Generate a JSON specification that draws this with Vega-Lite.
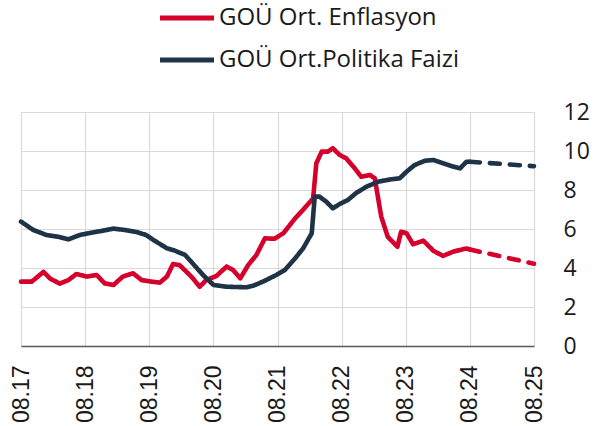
{
  "$schema": "https://vega.github.io/schema/vega-lite/v6.json",
  "width": 513,
  "height": 234,
  "autosize": "none",
  "padding": {"left": 21, "top": 112, "right": 69, "bottom": 80},
  "background": "white",
  "config": {
    "view": {"stroke": null},
    "axis": {"gridColor": "#d9d9d9", "gridWidth": 1.2}
  },
  "datasets": {
    "d": [
      {"date": "2017-08-01", "v": 3.30, "s": "GOÜ Ort. Enflasyon", "t": "A"},
      {"date": "2017-10-01", "v": 3.30, "s": "GOÜ Ort. Enflasyon", "t": "A"},
      {"date": "2017-12-07", "v": 3.80, "s": "GOÜ Ort. Enflasyon", "t": "A"},
      {"date": "2018-01-15", "v": 3.45, "s": "GOÜ Ort. Enflasyon", "t": "A"},
      {"date": "2018-03-10", "v": 3.20, "s": "GOÜ Ort. Enflasyon", "t": "A"},
      {"date": "2018-04-28", "v": 3.38, "s": "GOÜ Ort. Enflasyon", "t": "A"},
      {"date": "2018-06-12", "v": 3.69, "s": "GOÜ Ort. Enflasyon", "t": "A"},
      {"date": "2018-08-10", "v": 3.56, "s": "GOÜ Ort. Enflasyon", "t": "A"},
      {"date": "2018-10-06", "v": 3.64, "s": "GOÜ Ort. Enflasyon", "t": "A"},
      {"date": "2018-11-21", "v": 3.21, "s": "GOÜ Ort. Enflasyon", "t": "A"},
      {"date": "2019-01-10", "v": 3.13, "s": "GOÜ Ort. Enflasyon", "t": "A"},
      {"date": "2019-03-04", "v": 3.56, "s": "GOÜ Ort. Enflasyon", "t": "A"},
      {"date": "2019-05-01", "v": 3.73, "s": "GOÜ Ort. Enflasyon", "t": "A"},
      {"date": "2019-06-19", "v": 3.38, "s": "GOÜ Ort. Enflasyon", "t": "A"},
      {"date": "2019-08-15", "v": 3.30, "s": "GOÜ Ort. Enflasyon", "t": "A"},
      {"date": "2019-10-01", "v": 3.25, "s": "GOÜ Ort. Enflasyon", "t": "A"},
      {"date": "2019-11-10", "v": 3.56, "s": "GOÜ Ort. Enflasyon", "t": "A"},
      {"date": "2019-12-15", "v": 4.20, "s": "GOÜ Ort. Enflasyon", "t": "A"},
      {"date": "2020-01-21", "v": 4.15, "s": "GOÜ Ort. Enflasyon", "t": "A"},
      {"date": "2020-03-28", "v": 3.56, "s": "GOÜ Ort. Enflasyon", "t": "A"},
      {"date": "2020-05-15", "v": 3.04, "s": "GOÜ Ort. Enflasyon", "t": "A"},
      {"date": "2020-06-21", "v": 3.38, "s": "GOÜ Ort. Enflasyon", "t": "A"},
      {"date": "2020-08-18", "v": 3.59, "s": "GOÜ Ort. Enflasyon", "t": "A"},
      {"date": "2020-10-15", "v": 4.07, "s": "GOÜ Ort. Enflasyon", "t": "A"},
      {"date": "2020-11-21", "v": 3.90, "s": "GOÜ Ort. Enflasyon", "t": "A"},
      {"date": "2021-01-01", "v": 3.47, "s": "GOÜ Ort. Enflasyon", "t": "A"},
      {"date": "2021-02-15", "v": 4.15, "s": "GOÜ Ort. Enflasyon", "t": "A"},
      {"date": "2021-04-03", "v": 4.67, "s": "GOÜ Ort. Enflasyon", "t": "A"},
      {"date": "2021-05-21", "v": 5.52, "s": "GOÜ Ort. Enflasyon", "t": "A"},
      {"date": "2021-07-15", "v": 5.50, "s": "GOÜ Ort. Enflasyon", "t": "A"},
      {"date": "2021-09-03", "v": 5.78, "s": "GOÜ Ort. Enflasyon", "t": "A"},
      {"date": "2021-11-10", "v": 6.55, "s": "GOÜ Ort. Enflasyon", "t": "A"},
      {"date": "2021-12-15", "v": 6.89, "s": "GOÜ Ort. Enflasyon", "t": "A"},
      {"date": "2022-02-03", "v": 7.40, "s": "GOÜ Ort. Enflasyon", "t": "A"},
      {"date": "2022-02-20", "v": 7.57, "s": "GOÜ Ort. Enflasyon", "t": "A"},
      {"date": "2022-03-10", "v": 9.37, "s": "GOÜ Ort. Enflasyon", "t": "A"},
      {"date": "2022-04-10", "v": 9.97, "s": "GOÜ Ort. Enflasyon", "t": "A"},
      {"date": "2022-05-15", "v": 9.97, "s": "GOÜ Ort. Enflasyon", "t": "A"},
      {"date": "2022-06-12", "v": 10.14, "s": "GOÜ Ort. Enflasyon", "t": "A"},
      {"date": "2022-07-21", "v": 9.80, "s": "GOÜ Ort. Enflasyon", "t": "A"},
      {"date": "2022-08-28", "v": 9.62, "s": "GOÜ Ort. Enflasyon", "t": "A"},
      {"date": "2022-10-15", "v": 9.11, "s": "GOÜ Ort. Enflasyon", "t": "A"},
      {"date": "2022-11-21", "v": 8.68, "s": "GOÜ Ort. Enflasyon", "t": "A"},
      {"date": "2023-01-10", "v": 8.77, "s": "GOÜ Ort. Enflasyon", "t": "A"},
      {"date": "2023-02-06", "v": 8.60, "s": "GOÜ Ort. Enflasyon", "t": "A"},
      {"date": "2023-03-15", "v": 6.63, "s": "GOÜ Ort. Enflasyon", "t": "A"},
      {"date": "2023-04-21", "v": 5.60, "s": "GOÜ Ort. Enflasyon", "t": "A"},
      {"date": "2023-06-15", "v": 5.09, "s": "GOÜ Ort. Enflasyon", "t": "A"},
      {"date": "2023-07-06", "v": 5.86, "s": "GOÜ Ort. Enflasyon", "t": "A"},
      {"date": "2023-08-06", "v": 5.78, "s": "GOÜ Ort. Enflasyon", "t": "A"},
      {"date": "2023-09-12", "v": 5.22, "s": "GOÜ Ort. Enflasyon", "t": "A"},
      {"date": "2023-11-10", "v": 5.40, "s": "GOÜ Ort. Enflasyon", "t": "A"},
      {"date": "2024-01-06", "v": 4.88, "s": "GOÜ Ort. Enflasyon", "t": "A"},
      {"date": "2024-03-01", "v": 4.62, "s": "GOÜ Ort. Enflasyon", "t": "A"},
      {"date": "2024-04-28", "v": 4.84, "s": "GOÜ Ort. Enflasyon", "t": "A"},
      {"date": "2024-07-12", "v": 5.00, "s": "GOÜ Ort. Enflasyon", "t": "A"},
      {"date": "2024-08-01", "v": 4.95, "s": "GOÜ Ort. Enflasyon", "t": "A"},
      {"date": "2024-08-01", "v": 4.95, "s": "GOÜ Ort. Enflasyon", "t": "F"},
      {"date": "2025-08-01", "v": 4.22, "s": "GOÜ Ort. Enflasyon", "t": "F"},
      {"date": "2017-08-01", "v": 6.38, "s": "GOÜ Ort.Politika Faizi", "t": "A"},
      {"date": "2017-10-10", "v": 5.95, "s": "GOÜ Ort.Politika Faizi", "t": "A"},
      {"date": "2017-12-25", "v": 5.69, "s": "GOÜ Ort.Politika Faizi", "t": "A"},
      {"date": "2018-03-01", "v": 5.60, "s": "GOÜ Ort.Politika Faizi", "t": "A"},
      {"date": "2018-04-28", "v": 5.47, "s": "GOÜ Ort.Politika Faizi", "t": "A"},
      {"date": "2018-07-01", "v": 5.69, "s": "GOÜ Ort.Politika Faizi", "t": "A"},
      {"date": "2018-09-06", "v": 5.81, "s": "GOÜ Ort.Politika Faizi", "t": "A"},
      {"date": "2018-11-03", "v": 5.90, "s": "GOÜ Ort.Politika Faizi", "t": "A"},
      {"date": "2019-01-10", "v": 6.02, "s": "GOÜ Ort.Politika Faizi", "t": "A"},
      {"date": "2019-03-15", "v": 5.95, "s": "GOÜ Ort.Politika Faizi", "t": "A"},
      {"date": "2019-05-18", "v": 5.85, "s": "GOÜ Ort.Politika Faizi", "t": "A"},
      {"date": "2019-07-15", "v": 5.69, "s": "GOÜ Ort.Politika Faizi", "t": "A"},
      {"date": "2019-08-25", "v": 5.44, "s": "GOÜ Ort.Politika Faizi", "t": "A"},
      {"date": "2019-11-10", "v": 5.01, "s": "GOÜ Ort.Politika Faizi", "t": "A"},
      {"date": "2019-12-25", "v": 4.89, "s": "GOÜ Ort.Politika Faizi", "t": "A"},
      {"date": "2020-02-21", "v": 4.67, "s": "GOÜ Ort.Politika Faizi", "t": "A"},
      {"date": "2020-03-28", "v": 4.32, "s": "GOÜ Ort.Politika Faizi", "t": "A"},
      {"date": "2020-06-03", "v": 3.64, "s": "GOÜ Ort.Politika Faizi", "t": "A"},
      {"date": "2020-08-01", "v": 3.13, "s": "GOÜ Ort.Politika Faizi", "t": "A"},
      {"date": "2020-10-15", "v": 3.04, "s": "GOÜ Ort.Politika Faizi", "t": "A"},
      {"date": "2021-02-06", "v": 3.01, "s": "GOÜ Ort.Politika Faizi", "t": "A"},
      {"date": "2021-03-15", "v": 3.09, "s": "GOÜ Ort.Politika Faizi", "t": "A"},
      {"date": "2021-05-10", "v": 3.30, "s": "GOÜ Ort.Politika Faizi", "t": "A"},
      {"date": "2021-07-25", "v": 3.64, "s": "GOÜ Ort.Politika Faizi", "t": "A"},
      {"date": "2021-09-12", "v": 3.90, "s": "GOÜ Ort.Politika Faizi", "t": "A"},
      {"date": "2021-11-10", "v": 4.50, "s": "GOÜ Ort.Politika Faizi", "t": "A"},
      {"date": "2021-12-25", "v": 5.01, "s": "GOÜ Ort.Politika Faizi", "t": "A"},
      {"date": "2022-02-12", "v": 5.78, "s": "GOÜ Ort.Politika Faizi", "t": "A"},
      {"date": "2022-03-01", "v": 7.66, "s": "GOÜ Ort.Politika Faizi", "t": "A"},
      {"date": "2022-03-28", "v": 7.66, "s": "GOÜ Ort.Politika Faizi", "t": "A"},
      {"date": "2022-05-06", "v": 7.40, "s": "GOÜ Ort.Politika Faizi", "t": "A"},
      {"date": "2022-06-12", "v": 7.06, "s": "GOÜ Ort.Politika Faizi", "t": "A"},
      {"date": "2022-07-21", "v": 7.28, "s": "GOÜ Ort.Politika Faizi", "t": "A"},
      {"date": "2022-09-06", "v": 7.49, "s": "GOÜ Ort.Politika Faizi", "t": "A"},
      {"date": "2022-10-25", "v": 7.86, "s": "GOÜ Ort.Politika Faizi", "t": "A"},
      {"date": "2022-12-21", "v": 8.17, "s": "GOÜ Ort.Politika Faizi", "t": "A"},
      {"date": "2023-02-27", "v": 8.43, "s": "GOÜ Ort.Politika Faizi", "t": "A"},
      {"date": "2023-05-12", "v": 8.55, "s": "GOÜ Ort.Politika Faizi", "t": "A"},
      {"date": "2023-06-28", "v": 8.60, "s": "GOÜ Ort.Politika Faizi", "t": "A"},
      {"date": "2023-08-06", "v": 8.94, "s": "GOÜ Ort.Politika Faizi", "t": "A"},
      {"date": "2023-09-21", "v": 9.28, "s": "GOÜ Ort.Politika Faizi", "t": "A"},
      {"date": "2023-11-18", "v": 9.50, "s": "GOÜ Ort.Politika Faizi", "t": "A"},
      {"date": "2024-01-06", "v": 9.54, "s": "GOÜ Ort.Politika Faizi", "t": "A"},
      {"date": "2024-03-01", "v": 9.37, "s": "GOÜ Ort.Politika Faizi", "t": "A"},
      {"date": "2024-04-28", "v": 9.20, "s": "GOÜ Ort.Politika Faizi", "t": "A"},
      {"date": "2024-06-06", "v": 9.11, "s": "GOÜ Ort.Politika Faizi", "t": "A"},
      {"date": "2024-07-12", "v": 9.45, "s": "GOÜ Ort.Politika Faizi", "t": "A"},
      {"date": "2024-08-01", "v": 9.45, "s": "GOÜ Ort.Politika Faizi", "t": "A"},
      {"date": "2024-08-01", "v": 9.45, "s": "GOÜ Ort.Politika Faizi", "t": "F"},
      {"date": "2025-08-01", "v": 9.22, "s": "GOÜ Ort.Politika Faizi", "t": "F"}
    ]
  },
  "data": {"name": "d"},
  "mark": {"type": "line", "strokeWidth": 4.6, "strokeCap": "round", "strokeJoin": "round"},
  "encoding": {
    "x": {
      "field": "date",
      "type": "temporal",
      "scale": {
        "type": "utc",
        "domain": [
          {"year": 2017, "month": 8, "date": 1, "utc": true},
          {"year": 2025, "month": 8, "date": 1, "utc": true}
        ]
      },
      "axis": {
        "title": null,
        "format": "%m.%y",
        "values": [
          {"year": 2017, "month": 8, "date": 1, "utc": true},
          {"year": 2018, "month": 8, "date": 1, "utc": true},
          {"year": 2019, "month": 8, "date": 1, "utc": true},
          {"year": 2020, "month": 8, "date": 1, "utc": true},
          {"year": 2021, "month": 8, "date": 1, "utc": true},
          {"year": 2022, "month": 8, "date": 1, "utc": true},
          {"year": 2023, "month": 8, "date": 1, "utc": true},
          {"year": 2024, "month": 8, "date": 1, "utc": true},
          {"year": 2025, "month": 8, "date": 1, "utc": true}
        ],
        "labelAngle": -90,
        "labelFont": "Liberation Sans",
        "labelFontSize": 23,
        "labelColor": "#1a1a1a",
        "labelPadding": 19,
        "labelOverlap": false,
        "labelFlush": false,
        "ticks": false,
        "domainColor": "#595959",
        "domainWidth": 1.5,
        "grid": true
      }
    },
    "y": {
      "field": "v",
      "type": "quantitative",
      "scale": {"domain": [0, 12], "nice": false},
      "axis": {
        "title": null,
        "orient": "right",
        "values": [0, 2, 4, 6, 8, 10, 12],
        "labelFont": "Open Sans",
        "labelFontSize": 23,
        "labelColor": "#1a1a1a",
        "labelAlign": "left",
        "labelPadding": 29,
        "ticks": false,
        "domain": false,
        "grid": true
      }
    },
    "color": {
      "field": "s",
      "type": "nominal",
      "scale": {
        "domain": ["GOÜ Ort. Enflasyon", "GOÜ Ort.Politika Faizi"],
        "range": ["#d6002c", "#1e3346"]
      },
      "legend": {
        "title": null,
        "orient": "none",
        "legendX": 150,
        "legendY": -110,
        "direction": "vertical",
        "symbolType": "M-2,0H2",
        "symbolSize": 729,
        "symbolStrokeWidth": 5,
        "labelFont": "Open Sans",
        "labelFontSize": 24,
        "labelColor": "#1a1a1a",
        "labelOffset": 16,
        "rowPadding": 14,
        "labelLimit": 400
      }
    },
    "strokeDash": {
      "field": "t",
      "type": "nominal",
      "scale": {"domain": ["A", "F"], "range": [[1, 0], [10, 10]]},
      "legend": null
    }
  }
}
